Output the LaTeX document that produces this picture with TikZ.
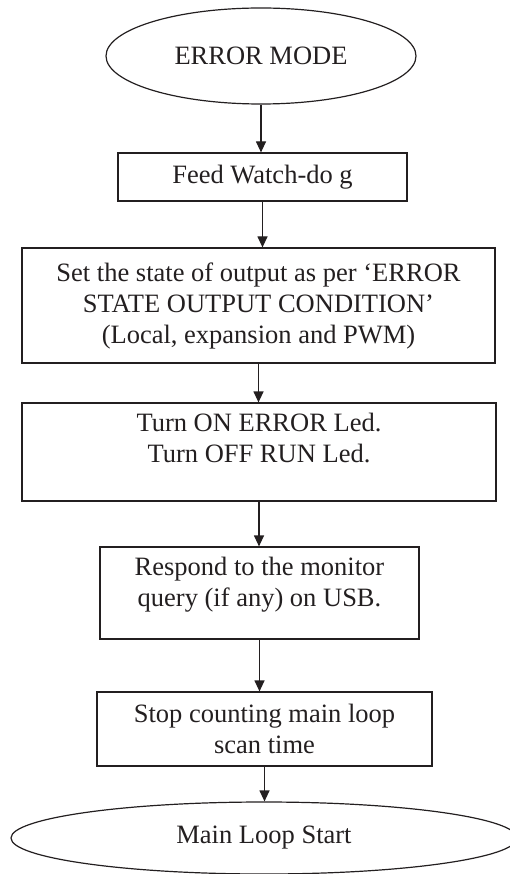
\documentclass[tikz,border=0pt]{standalone}
\usepackage{fontspec}
\setmainfont{Liberation Serif}
\usetikzlibrary{shapes.geometric,arrows.meta}
\definecolor{ink}{RGB}{35,31,32}
\begin{document}
\begin{tikzpicture}[x=1pt,y=-1pt]
  \tikzstyle{every node}=[font=\fontsize{26.5}{31}\selectfont, text=ink]
  \tikzstyle{term}=[draw=ink, line width=1.2pt, ellipse, inner sep=0pt]
  \tikzstyle{proc}=[draw=ink, line width=1.2pt, rectangle, align=center, inner sep=0pt]
  \tikzstyle{flow}=[draw=ink, line width=1.2pt, -{Triangle[length=11pt,width=10pt]}]
  \useasboundingbox (0,0) rectangle (510,874);
  \node[term, minimum width=310, minimum height=96] (errmode) at (261,56) {ERROR MODE};
  \node[proc, minimum width=289, minimum height=48] (feed) at (262.5,177) {Feed Watch-do g};
  \node[proc, minimum width=473, minimum height=115] (outstate) at (258.5,305.5)
    {Set the state of output as per `ERROR\\ STATE OUTPUT CONDITION'\\ (Local, expansion and PWM)};
  \node[proc, minimum width=474, minimum height=98, text depth=28] (leds) at (259,452)
    {Turn ON ERROR Led.\\ Turn OFF RUN Led.};
  \node[proc, minimum width=319, minimum height=92, text depth=22] (monitor) at (259.5,593)
    {Respond to the monitor\\ query (if any) on USB.};
  \node[proc, minimum width=335, minimum height=74] (scantime) at (264.5,729)
    {Stop counting main loop\\ scan time};
  \node[term, minimum width=506, minimum height=72] (mainloop) at (264,838) {Main Loop Start};
  \draw[flow] (errmode.south) -- (errmode.south |- feed.north);
  \draw[flow] (feed.south) -- (feed.south |- outstate.north);
  \draw[flow] (outstate.south) -- (outstate.south |- leds.north);
  \draw[flow] (leds.south) -- (leds.south |- monitor.north);
  \draw[flow] (monitor.south) -- (monitor.south |- scantime.north);
  \draw[flow] (scantime.south) -- (scantime.south |- mainloop.north);
\end{tikzpicture}
\end{document}
